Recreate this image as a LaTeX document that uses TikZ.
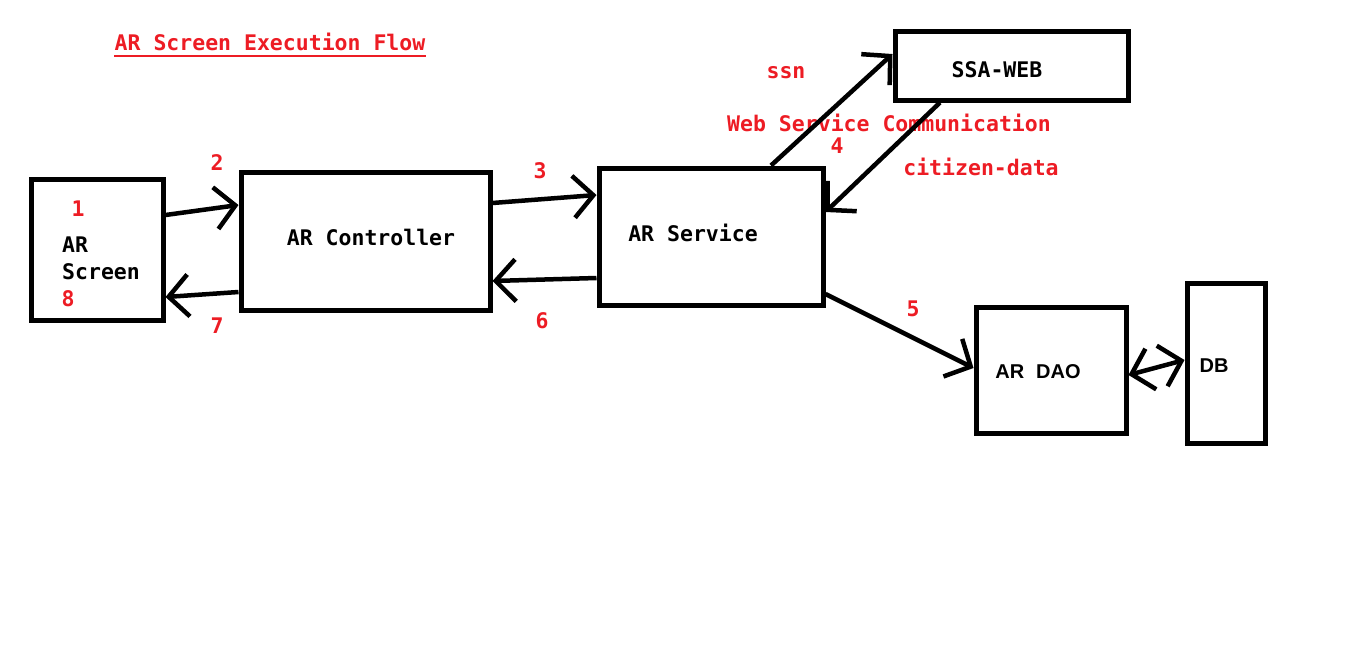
\documentclass[tikz,border=0pt]{standalone}
\usepackage{fontspec}
\setmonofont{DejaVu Sans Mono}
\setsansfont{Liberation Sans}
\usetikzlibrary{arrows.meta}
\definecolor{pred}{HTML}{ED1C24}
\begin{document}
\begin{tikzpicture}[x=1pt,y=-1pt,
  box/.style={draw=black,line width=5pt,minimum width=#1,inner sep=0pt},
  tip/.style={Straight Barb[length=20pt,width=42pt]},
  arr/.style={line width=4.5pt,-{Straight Barb[length=20pt,width=42pt]}},
  darr/.style={line width=4.5pt,{Straight Barb[length=20pt,width=42pt]}-{Straight Barb[length=20pt,width=42pt]}},
  lbl/.style={font=\ttfamily\bfseries\fontsize{21.5}{26}\selectfont,inner sep=0pt},
  num/.style={lbl,text=pred},
  slbl/.style={font=\sffamily\bfseries\fontsize{20}{24}\selectfont,inner sep=0pt}]
\useasboundingbox (0,0) rectangle (1359,654);
% boxes
\node[box=132pt,minimum height=141pt] (scr) at (97,249.5) {};
\node[box=249pt,minimum height=138pt] (ctl) at (365.5,241) {};
\node[box=224pt,minimum height=137pt] (svc) at (711,236.5) {};
\node[box=233pt,minimum height=69pt] (ssa) at (1011.5,65.5) {};
\node[box=150pt,minimum height=126pt] (dao) at (1051,370) {};
\node[box=78pt,minimum height=160pt] (db) at (1226,363) {};
% title
\node[num] (title) at (270,42) {AR Screen Execution Flow};
\draw[pred,line width=2pt] ([yshift=-5pt]title.base west) -- ([yshift=-5pt]title.base east);
% box texts
\node[lbl,anchor=west] (t1) at (62,245) {AR};
\node[lbl,anchor=west] (t2) at (62,272) {Screen};
\node[lbl] (tctl) at (371,237) {AR Controller};
\node[lbl] (tsvc) at (693,233) {AR Service};
\node[lbl] (tssa) at (997,70) {SSA-WEB};
\node[slbl] (tdao) at (1038,372) {AR\hspace{0.6em}DAO};
\node[slbl] (tdb) at (1214,366) {DB};
% numbers and red labels
\node[num] (n1) at (78,209) {1};
\node[num] (n8) at (68,299) {8};
\node[num] (n2) at (217,163) {2};
\node[num] (n7) at (217,326) {7};
\node[num] (n3) at (540,171) {3};
\node[num] (n6) at (542,321) {6};
\node[num] (n4) at (837,146) {4};
\node[num] (n5) at (913,309) {5};
\node[num] (ssn) at (786,73) {ssn};
\node[num] (wsc) at (889,123) {Web Service Communication};
\node[num] (cit) at (981,167) {citizen-data};
% connectors
\draw[arr] ([yshift=34.5pt]scr.east) -- ([yshift=36pt]ctl.west);
\draw[arr] ([yshift=-51pt]ctl.west) -- ([yshift=-47.5pt]scr.east);
\draw[arr] ([yshift=38pt]ctl.east) -- ([yshift=41.5pt]svc.west);
\draw[arr] ([yshift=-41.5pt]svc.west) -- ([yshift=-40pt]ctl.east);
\draw[arr] ([xshift=60pt]svc.north) -- ([yshift=11.5pt]ssa.west);
\draw[arr] ([xshift=-71.5pt]ssa.south) -- ([yshift=24.5pt]svc.east);
\draw[arr] ([yshift=-57.5pt]svc.east) -- ([yshift=2pt]dao.west);
\draw[darr] ([yshift=-5pt]dao.east) -- ([yshift=3pt]db.west);
\end{tikzpicture}
\end{document}
